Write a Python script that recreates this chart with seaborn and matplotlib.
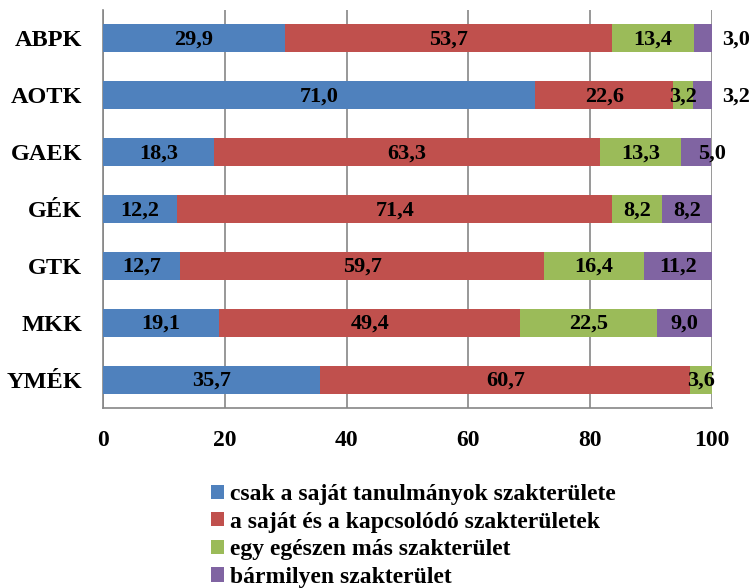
import numpy as np
import pandas as pd
import seaborn as sns
import matplotlib.pyplot as plt
from matplotlib.patches import Patch

categories = ['ABPK', 'AOTK', 'GAEK', 'GÉK', 'GTK', 'MKK', 'YMÉK']
sajat = [29.9, 71.0, 18.3, 12.2, 12.7, 19.1, 35.7]
kapcsolodo = [53.7, 22.6, 63.3, 71.4, 59.7, 49.4, 60.7]
mas = [13.4, 3.2, 13.3, 8.2, 16.4, 22.5, 3.6]
barmilyen = [3.0, 3.2, 5.0, 8.2, 11.2, 9.0, 0.0]
series_names = ['csak a saját tanulmányok szakterülete',
                'a saját és a kapcsolódó szakterületek',
                'egy egészen más szakterület',
                'bármilyen szakterület']
colors = ['#4F81BD', '#C0504D', '#9BBB59', '#8064A2']

df = pd.DataFrame({'kar': categories, series_names[0]: sajat, series_names[1]: kapcsolodo,
                   series_names[2]: mas, series_names[3]: barmilyen})
vals = df[series_names].values
cum = vals.cumsum(axis=1)

sns.set_style('white')
plt.rcParams['font.family'] = ['Liberation Serif', 'DejaVu Serif']
plt.rcParams['font.weight'] = 'bold'
plt.rcParams['text.color'] = 'black'
plt.rcParams['xtick.labelcolor'] = 'black'
plt.rcParams['ytick.labelcolor'] = 'black'

fig = plt.figure(figsize=(7.49, 5.88), dpi=100)
ax = fig.add_axes([103/749, 1-408/588, 609/749, 398/588])

# stacked bars: draw the running totals from the back to the front
for i in range(3, -1, -1):
    tmp = pd.DataFrame({'kar': categories, 'v': cum[:, i]})
    sns.barplot(data=tmp, x='v', y='kar', orient='h', color=colors[i], width=0.49,
                saturation=1, ax=ax, zorder=3, linewidth=0)

# value labels
for r in range(len(categories)):
    for i in range(4):
        v = vals[r, i]
        if v <= 0:
            continue
        xc = cum[r, i] - v / 2
        if i == 3 and v <= 3.2:
            xc = 100 + 4.0
        elif i == 3 and v <= 5.0:
            xc = 100
        ax.text(xc, r + 0.02, f'{v:.1f}'.replace('.', ','), ha='center', va='center',
                fontsize=16, fontweight='bold', color='black', zorder=5, clip_on=False)

ax.set_xlim(0, 100)
ax.set_ylim(len(categories) - 0.5, -0.5)
ax.set_xticks([0, 20, 40, 60, 80, 100])
ax.set_xlabel('')
ax.set_ylabel('')
ax.grid(axis='x', color='#868686', linewidth=1.2, zorder=0)
ax.set_axisbelow(True)
for s in ['top', 'right']:
    ax.spines[s].set_visible(False)
for s in ['left', 'bottom']:
    ax.spines[s].set_color('#868686')
    ax.spines[s].set_linewidth(1.2)
ax.set_yticks(np.arange(-0.5, len(categories), 1), minor=True)
ax.tick_params(axis='y', which='major', length=0, pad=15, labelsize=17.5, labelcolor='black')
ax.tick_params(axis='y', which='minor', length=5, width=1.2, color='#868686', direction='out')
ax.tick_params(axis='x', length=5, width=1.2, color='#868686', direction='out', pad=11,
               labelsize=17, labelcolor='black')
for lab in ax.get_xticklabels() + ax.get_yticklabels():
    lab.set_fontweight('bold')

handles = [Patch(facecolor=c, edgecolor='none') for c in colors]
leg = fig.legend(handles, series_names, loc='upper left', bbox_to_anchor=(211/749, 1-484/588),
                 frameon=False, handlelength=0.55, handleheight=0.55,
                 handletextpad=0.25, labelspacing=0.28, borderpad=0, borderaxespad=0,
                 prop={'weight': 'bold', 'size': 17})
for t in leg.get_texts():
    t.set_color('black')

fig.savefig('out.png', dpi=100)
